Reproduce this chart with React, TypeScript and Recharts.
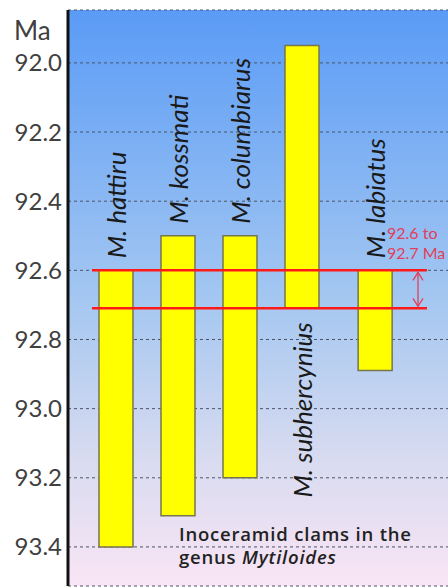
import React from 'react';
import { ComposedChart, Bar, XAxis, YAxis, CartesianGrid, ReferenceLine, LabelList } from 'recharts';

const species = ['M. hattiru', 'M. kossmati', 'M. columbiarus', 'M. subhercynius', 'M. labiatus'];
const positions = [1, 2, 3, 4, 5.18];
const youngest = [92.6, 92.5, 92.5, 91.95, 92.6];
const oldest = [93.4, 93.31, 93.2, 92.71, 92.89];
const labelBelow = ['M. subhercynius'];
const yTicks = [92.0, 92.2, 92.4, 92.6, 92.8, 93.0, 93.2, 93.4];
const bandTop = 92.6;
const bandBottom = 92.71;

const data = species.map((name, i) => ({
  name,
  pos: positions[i],
  range: [youngest[i], oldest[i]],
}));

const labelFont = 'Lato, "Open Sans", sans-serif';

const renderSpeciesLabel = (props: any) => {
  const { x, y, width, height, value } = props;
  const cx = Number(x) + Number(width) / 2;
  const top = Math.min(Number(y), Number(y) + Number(height));
  const bottom = Math.max(Number(y), Number(y) + Number(height));
  const below = labelBelow.includes(value);
  const ty = below ? bottom + 14 : top - 12;
  return (
    <text
      x={cx}
      y={ty}
      transform={`rotate(-90 ${cx} ${ty})`}
      textAnchor={below ? 'end' : 'start'}
      dominantBaseline="central"
      fontFamily={labelFont}
      fontStyle="italic"
      fontSize={26}
      fill="#1a1a1a"
    >
      {value}
    </text>
  );
};

const arrowShape = (props: any) => {
  const { x1, y1, x2, y2 } = props;
  const ya = Math.min(y1, y2) + 2;
  const yb = Math.max(y1, y2) - 2;
  const c = '#e0405a';
  return (
    <g>
      <line x1={x1} y1={ya} x2={x2} y2={yb} stroke={c} strokeWidth={1.3} />
      <polyline points={`${x1 - 5},${ya + 8} ${x1},${ya} ${x1 + 5},${ya + 8}`} fill="none" stroke={c} strokeWidth={1.3} />
      <polyline points={`${x1 - 5},${yb - 8} ${x1},${yb} ${x1 + 5},${yb - 8}`} fill="none" stroke={c} strokeWidth={1.3} />
      <text x={x1 - 31} y={ya - 33} fontFamily={labelFont} fontSize={16} fill={c}>92.6 to</text>
      <text x={x1 - 31} y={ya - 13} fontFamily={labelFont} fontSize={16} fill={c}>92.7 Ma</text>
    </g>
  );
};

export default function App() {
  return (
    <div style={{ position: 'absolute', left: 0, top: 0 }}>
      <ComposedChart width={448} height={588} data={data} margin={{ top: 10, right: 0, bottom: 2, left: 0 }}>
        <defs>
          <linearGradient id="bgGrad" x1="0" y1="0" x2="0" y2="1">
            <stop offset="0%" stopColor="#5a9bf6" />
            <stop offset="50%" stopColor="#a4c7f1" />
            <stop offset="78%" stopColor="#d8dbf0" />
            <stop offset="100%" stopColor="#f9e5f5" />
          </linearGradient>
        </defs>
        <CartesianGrid vertical={false} fill="url(#bgGrad)" stroke="#4a5566" strokeDasharray="3 3" strokeWidth={1} />
        <XAxis
          xAxisId={0}
          dataKey="pos"
          type="number"
          domain={[0.226, 6.355]}
          orientation="top"
          height={0}
          tick={false}
          tickLine={false}
          axisLine={{ stroke: '#111', strokeWidth: 3 }}
          allowDataOverflow
        />
        <YAxis
          type="number"
          reversed
          domain={[91.847, 93.513]}
          ticks={yTicks}
          width={68}
          tickLine={false}
          tickSize={0}
          tickMargin={6}
          interval={0}
          allowDataOverflow
          axisLine={{ stroke: '#111', strokeWidth: 3 }}
          tickFormatter={(v: number) => v.toFixed(1)}
          tick={{ fontFamily: labelFont, fontSize: 24, fill: '#404040' }}
        />
        <Bar dataKey="range" barSize={34} fill="#ffff00" stroke="#76764e" strokeWidth={1.5} isAnimationActive={false}>
          <LabelList dataKey="name" content={renderSpeciesLabel} />
        </Bar>
        <ReferenceLine
          segment={[{ x: 0.613, y: bandTop }, { x: 6.016, y: bandTop }]}
          stroke="#ff1a1a"
          strokeWidth={2.5}
          ifOverflow="visible"
        />
        <ReferenceLine
          segment={[{ x: 0.613, y: bandBottom }, { x: 6.016, y: bandBottom }]}
          stroke="#ff1a1a"
          strokeWidth={2.5}
          ifOverflow="visible"
        />
        <ReferenceLine
          segment={[{ x: 5.871, y: bandTop }, { x: 5.871, y: bandBottom }]}
          shape={arrowShape}
          ifOverflow="visible"
        />
        <text x={14} y={40} fontFamily={labelFont} fontSize={26} fill="#404040">Ma</text>
        <text x={179} y={541} fontFamily='"Open Sans", sans-serif' fontSize={18.5} letterSpacing={0.8} fontWeight={600} fill="#222">
          Inoceramid clams in the
        </text>
        <text x={179} y={564} fontFamily='"Open Sans", sans-serif' fontSize={18.5} letterSpacing={0.8} fontWeight={600} fill="#222">
          genus <tspan fontStyle="italic">Mytiloides</tspan>
        </text>
      </ComposedChart>
    </div>
  );
}
